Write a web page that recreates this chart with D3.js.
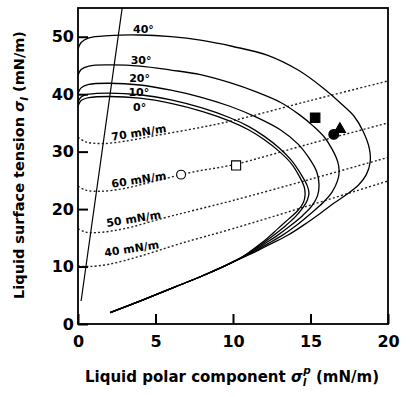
<!DOCTYPE html>
<html lang="en">
<head>
    <meta charset="UTF-8">
    <title>Wetting envelope</title>
    <style>
        body { margin: 0; background-color: #fff; }
        svg { display: block; font-family: "DejaVu Sans", Verdana, sans-serif; }
    </style>
</head>
<body>
<script src="https://cdnjs.cloudflare.com/ajax/libs/d3/7.8.5/d3.min.js"></script>
<script>

    // axis ticks
    let xTicks = [0, 5, 10, 15, 20]
    let yTicks = [0, 10, 20, 30, 40, 50]

    // wetting envelopes, [polar component, surface tension]
    let env0 = [[0, 37.9], [0.2, 38.9], [0.7, 39.4], [2, 39.6], [4, 39.3], [6, 38.4], [8, 37.0], [9.8, 35.3], [11, 33.8], [12, 32.1], [13, 30.0], [13.8, 27.8], [14.3, 25.6], [14.6, 23.8], [14.65, 22.5], [14.55, 21.2], [14.2, 19.8], [13.6, 18.3], [12.9, 16.6], [12.2, 14.9], [11.6, 13.6], [11.0, 12.4], [10.3, 11.2], [9.3, 9.9], [8, 8.35], [6.27, 6.45], [4.2, 4.2], [2.07, 1.97]]
    let env10 = [[0, 38.6], [0.2, 39.5], [0.7, 40.0], [2, 40.2], [4, 39.9], [6, 39.0], [8, 37.6], [9.8, 35.9], [11, 34.4], [12, 32.7], [13, 30.6], [13.8, 28.4], [14.4, 26.0], [14.8, 24.0], [14.9, 22.8], [14.8, 21.6], [14.5, 20.2], [14.0, 18.6], [13.3, 16.9], [12.5, 15.2], [11.8, 13.8], [11.1, 12.5], [10.3, 11.2], [9.3, 9.9], [8, 8.35], [6.27, 6.45], [4.2, 4.2], [2.07, 1.97]]
    let env20 = [[0, 40.1], [0.2, 41.1], [0.7, 41.7], [2, 41.9], [4, 41.6], [6, 40.7], [7.9, 39.5], [9.8, 37.9], [11.5, 36.0], [13.05, 33.8], [14.2, 31.3], [14.9, 28.9], [15.4, 26.5], [15.55, 24.3], [15.45, 22.3], [15.1, 20.6], [14.5, 18.9], [13.7, 17.1], [12.8, 15.3], [12.0, 13.9], [11.2, 12.5], [10.3, 11.2], [9.3, 9.9], [8, 8.35], [6.27, 6.45], [4.2, 4.2], [2.07, 1.97]]
    let env30 = [[0, 43.3], [0.2, 44.3], [0.7, 44.9], [2, 45.1], [4, 44.9], [6, 44.2], [7.9, 43.4], [9.8, 42.0], [11.5, 40.4], [13.05, 38.6], [14.3, 36.4], [15.2, 34.4], [15.9, 32.5], [16.4, 30.4], [16.75, 28.3], [16.85, 26.6], [16.75, 25.0], [16.4, 23.0], [15.8, 21.1], [15.0, 19.2], [14.1, 17.2], [13.1, 15.3], [12.2, 13.9], [11.3, 12.5], [10.3, 11.2], [9.3, 9.9], [8, 8.35], [6.27, 6.45], [4.2, 4.2], [2.07, 1.97]]
    let env40 = [[0, 47.8], [0.2, 49.0], [0.7, 49.8], [2, 50.2], [4, 50.3], [6, 50.0], [7.9, 49.4], [10, 48.3], [12.2, 46.8], [14.2, 44.2], [15.85, 41.0], [17.0, 38.3], [17.8, 36.2], [18.4, 33.5], [18.8, 30.5], [18.85, 28.2], [18.6, 26.0], [18.1, 24.2], [17.3, 22.5], [16.5, 21.0], [15.6, 19.2], [14.6, 17.3], [13.5, 15.4], [12.4, 13.9], [11.4, 12.5], [10.3, 11.2], [9.3, 9.9], [8, 8.35], [6.27, 6.45], [4.2, 4.2], [2.07, 1.97]]
    let envelopes = [env0, env10, env20, env30, env40]
    let angleLabels = ["0°", "10°", "20°", "30°", "40°"]

    // dotted iso-lines
    let iso40 = [[0, 10.1], [0.7, 10.0], [2, 10.4], [4, 11.8], [6.6, 14.0], [10, 16.6], [15, 20.7], [20, 24.9]]
    let iso50 = [[0, 16.6], [0.5, 16.0], [1.2, 15.9], [3, 16.6], [5.6, 18.5], [7.5, 19.8], [10, 21.5], [15, 25.2], [20, 29.0]]
    let iso60 = [[0, 24.0], [0.5, 23.3], [1.5, 23.1], [3, 23.6], [5, 24.9], [7.5, 26.5], [10, 27.7], [15, 31.4], [20, 35.0]]
    let iso70 = [[0, 32.5], [0.5, 31.7], [1.5, 31.4], [3, 31.8], [5, 32.8], [7.5, 34.0], [10, 35.4], [15, 38.9], [20, 42.3]]
    let isoLines = [iso40, iso50, iso60, iso70]
    let isoLabels = ["40 mN/m", "50 mN/m", "60 mN/m", "70 mN/m"]

    // steep straight line
    let steepLine = [[0.2, 4.0], [2.85, 55]]

    // measured liquids
    let openCircle = [[6.65, 26.0]]
    let openSquare = [[10.2, 27.6]]
    let filledSquare = [[15.3, 35.9]]
    let filledCircle = [[16.5, 33.0]]
    let filledTriangle = [[16.9, 33.9]]

    let width = 413, height = 397
    let margin = {left: 78, right: 25, top: 8, bottom: 73}

    let svg = d3.select("body").append("svg")
        .attr("width", width)
        .attr("height", height)

    let x = d3.scaleLinear().domain([0, 20]).range([margin.left, width - margin.right])
    let y = d3.scaleLinear().domain([0, 55]).range([height - margin.bottom, margin.top])

    svg.append("clipPath").attr("id", "plot")
        .append("rect")
        .attr("x", x(0)).attr("y", y(55))
        .attr("width", x(20) - x(0)).attr("height", y(0) - y(55))

    let g = svg.append("g").attr("clip-path", "url(#plot)")
    let line = d3.line().x(d => x(d[0])).y(d => y(d[1])).curve(d3.curveCatmullRom.alpha(0.5))

    // dotted lines
    g.selectAll(".iso")
        .data(isoLines)
        .enter()
        .append("path")
            .attr("class", "iso")
            .attr("d", line)
            .attr("fill", "none")
            .attr("stroke", "#222")
            .attr("stroke-width", 1.4)
            .attr("stroke-dasharray", "2,2.2")

    // envelopes
    g.selectAll(".env")
        .data(envelopes)
        .enter()
        .append("path")
            .attr("class", "env")
            .attr("d", line)
            .attr("fill", "none")
            .attr("stroke", "#000")
            .attr("stroke-width", 1.3)

    g.append("path")
        .attr("d", d3.line().x(d => x(d[0])).y(d => y(d[1]))(steepLine))
        .attr("fill", "none")
        .attr("stroke", "#000")
        .attr("stroke-width", 1.2)

    // markers
    function marker(data, type, size, fill) {
        g.selectAll(null)
            .data(data)
            .enter()
            .append("path")
                .attr("transform", d => `translate(${x(d[0])},${y(d[1])})`)
                .attr("d", d3.symbol().type(type).size(size))
                .attr("fill", fill)
                .attr("stroke", "#000")
                .attr("stroke-width", 1.1)
    }
    marker(openCircle, d3.symbolCircle, 62, "#fff")
    marker(openSquare, d3.symbolSquare, 82, "#fff")
    marker(filledSquare, d3.symbolSquare, 90, "#000")
    marker(filledCircle, d3.symbolCircle, 75, "#000")
    marker(filledTriangle, d3.symbolTriangle, 55, "#000")

    // angle labels
    let anglePos = [[3.55, 37.0], [3.25, 39.7], [3.3, 42.15], [3.4, 45.2], [3.55, 50.6]]
    svg.selectAll(".angle")
        .data(angleLabels)
        .enter()
        .append("text")
            .attr("class", "angle")
            .attr("x", (d, i) => x(anglePos[i][0]))
            .attr("y", (d, i) => y(anglePos[i][1]))
            .attr("font-size", 11)
            .attr("font-weight", "bold")
            .text(d => d)

    let isoPos = [[1.74, 11.7], [1.87, 16.9], [2.2, 23.7], [2.2, 31.9]]
    svg.selectAll(".isolabel")
        .data(isoLabels)
        .enter()
        .append("text")
            .attr("class", "isolabel")
            .attr("transform", (d, i) => `translate(${x(isoPos[i][0])},${y(isoPos[i][1])}) rotate(-9)`)
            .attr("font-size", 11)
            .attr("font-weight", "bold")
            .text(d => d)

    // axes
    let xAxis = svg.append("g")
        .attr("transform", `translate(0,${y(0)})`)
        .call(d3.axisBottom(x).tickValues(xTicks).tickSizeInner(-10).tickSizeOuter(0).tickPadding(12))
    let yAxis = svg.append("g")
        .attr("transform", `translate(${x(0)},0)`)
        .call(d3.axisLeft(y).tickValues(yTicks).tickSizeInner(-10).tickSizeOuter(0).tickPadding(4))

    for (let ax of [xAxis, yAxis]) {
        ax.select(".domain").remove()
        ax.selectAll("line").attr("stroke", "#000").attr("stroke-width", 2)
        ax.selectAll("text")
            .attr("font-family", "DejaVu Sans, sans-serif")
            .attr("font-size", 16)
            .attr("font-weight", "bold")
            .attr("fill", "#000")
    }

    svg.append("rect")
        .attr("x", x(0)).attr("y", y(55))
        .attr("width", x(20) - x(0)).attr("height", y(0) - y(55))
        .attr("fill", "none")
        .attr("stroke", "#000")
        .attr("stroke-width", 1.8)

    // axis titles
    let xt = svg.append("text")
        .attr("x", 232)
        .attr("y", 382)
        .attr("text-anchor", "middle")
        .attr("font-size", 15)
        .attr("font-weight", "bold")
    xt.append("tspan").text("Liquid polar component ")
    xt.append("tspan").attr("font-style", "italic").text("σ")
    xt.append("tspan").attr("font-style", "italic").attr("font-size", 10.5).attr("dy", 4).text("l")
    xt.append("tspan").attr("font-style", "italic").attr("font-size", 10.5).attr("dx", -3).attr("dy", -12).text("p")
    xt.append("tspan").attr("dy", 8).text(" (mN/m)")

    let yt = svg.append("text")
        .attr("transform", "translate(24,165) rotate(-90)")
        .attr("text-anchor", "middle")
        .attr("font-size", 14.5)
        .attr("font-weight", "bold")
    yt.append("tspan").text("Liquid surface tension ")
    yt.append("tspan").attr("font-style", "italic").text("σ")
    yt.append("tspan").attr("font-style", "italic").attr("font-size", 10.5).attr("dy", 4).text("l")
    yt.append("tspan").attr("dy", -4).text(" (mN/m)")

</script>
</body>
</html>
